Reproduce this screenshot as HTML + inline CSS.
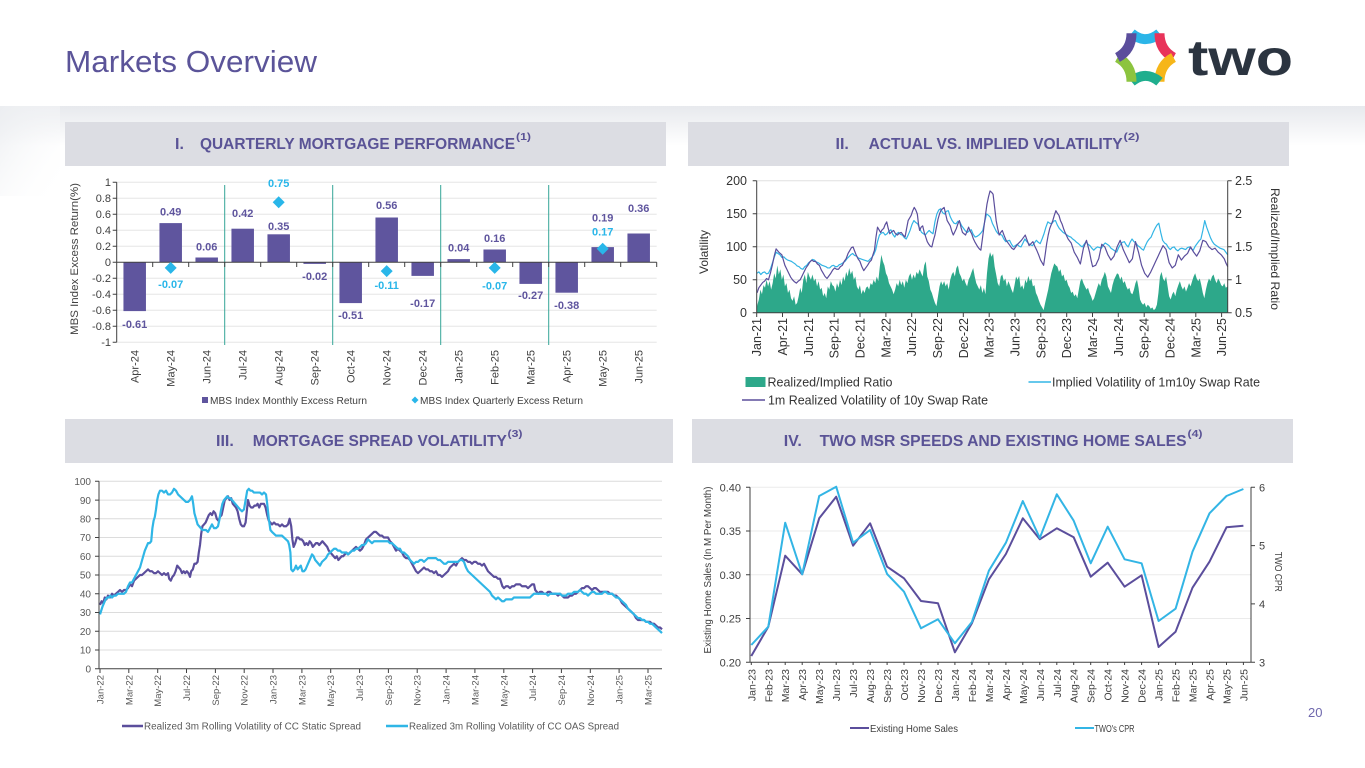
<!DOCTYPE html>
<html><head><meta charset="utf-8"><style>
html,body{margin:0;padding:0;background:#fff;}
svg{display:block;}
text{font-family:"Liberation Sans",Arial,sans-serif;}
</style></head><body>
<svg width="1365" height="768" viewBox="0 0 1365 768" xmlns="http://www.w3.org/2000/svg">
<defs>
<linearGradient id="bgv" x1="0" y1="0" x2="0" y2="1"><stop offset="0" stop-color="#e7e9ed"/><stop offset="1" stop-color="#ffffff"/></linearGradient>
<linearGradient id="bgh" x1="0" y1="0" x2="1" y2="1"><stop offset="0" stop-color="#eceef1"/><stop offset="1" stop-color="#ffffff" stop-opacity="0"/></linearGradient>
</defs>
<rect x="0" y="0" width="1365" height="768" fill="#fff"/>
<rect x="0" y="106" width="1365" height="40" fill="url(#bgv)"/>
<rect x="0" y="106" width="60" height="90" fill="url(#bgh)"/>

<!-- Title -->
<text x="65" y="72" font-size="31" fill="#5b5499" textLength="252" lengthAdjust="spacingAndGlyphs">Markets Overview</text>

<!-- Logo -->
<g fill="none" stroke-width="10" stroke-linecap="butt">
<path d="M1131.5,33.3 Q1145.5,45 1159.5,33.3" stroke="#2bb5e8"/>
<path d="M1159.5,33.3 Q1159.5,50 1173.5,57.5" stroke="#e8335a"/>
<path d="M1173.5,57.5 Q1159.5,65 1159.5,81.7" stroke="#f6b619"/>
<path d="M1159.5,81.7 Q1145.5,70 1131.5,81.7" stroke="#1fae8e"/>
<path d="M1131.5,81.7 Q1131.5,65 1117.5,57.5" stroke="#8cc43f"/>
<path d="M1117.5,57.5 Q1131.5,50 1131.5,33.3" stroke="#5b4e9c"/>
</g>
<text x="1188" y="75" font-size="50" font-weight="bold" fill="#2b3440" textLength="105" lengthAdjust="spacingAndGlyphs">two</text>

<!-- Header boxes -->
<rect x="65" y="122" width="601" height="44" fill="#dcdde3"/>
<rect x="688" y="122" width="601" height="44" fill="#dcdde3"/>
<rect x="65" y="419" width="608" height="44" fill="#dcdde3"/>
<rect x="692" y="419" width="601" height="44" fill="#dcdde3"/>
<g font-weight="bold" fill="#5a5396" font-size="16">
<text x="175" y="149">I.</text>
<text x="200" y="149" textLength="315" lengthAdjust="spacingAndGlyphs">QUARTERLY MORTGAGE PERFORMANCE</text>
<text x="516" y="140" font-size="10" textLength="15" lengthAdjust="spacingAndGlyphs">(1)</text>
<text x="835.5" y="149">II.</text>
<text x="868.6" y="149" textLength="254" lengthAdjust="spacingAndGlyphs">ACTUAL VS. IMPLIED VOLATILITY</text>
<text x="1123.5" y="140" font-size="10" textLength="16" lengthAdjust="spacingAndGlyphs">(2)</text>
<text x="216" y="446">III.</text>
<text x="252.8" y="446" textLength="254" lengthAdjust="spacingAndGlyphs">MORTGAGE SPREAD VOLATILITY</text>
<text x="507.5" y="437" font-size="10" textLength="15" lengthAdjust="spacingAndGlyphs">(3)</text>
<text x="783.7" y="446">IV.</text>
<text x="819.6" y="446" textLength="367" lengthAdjust="spacingAndGlyphs">TWO MSR SPEEDS AND EXISTING HOME SALES</text>
<text x="1187.5" y="437" font-size="10" textLength="15" lengthAdjust="spacingAndGlyphs">(4)</text>
</g>

<!-- ============ CHART I ============ -->
<g stroke="#e6e6e6" stroke-width="1">
<line x1="116.7" y1="182.3" x2="656.7" y2="182.3"/><line x1="116.7" y1="198.3" x2="656.7" y2="198.3"/>
<line x1="116.7" y1="214.3" x2="656.7" y2="214.3"/><line x1="116.7" y1="230.3" x2="656.7" y2="230.3"/>
<line x1="116.7" y1="246.3" x2="656.7" y2="246.3"/><line x1="116.7" y1="278.3" x2="656.7" y2="278.3"/>
<line x1="116.7" y1="294.3" x2="656.7" y2="294.3"/><line x1="116.7" y1="310.3" x2="656.7" y2="310.3"/>
<line x1="116.7" y1="326.3" x2="656.7" y2="326.3"/><line x1="116.7" y1="342.3" x2="656.7" y2="342.3"/>
</g>
<g stroke="#35a597" stroke-width="1">
<line x1="224.7" y1="185" x2="224.7" y2="345"/><line x1="332.7" y1="185" x2="332.7" y2="345"/>
<line x1="440.7" y1="185" x2="440.7" y2="345"/><line x1="548.7" y1="185" x2="548.7" y2="345"/>
</g>
<g fill="#5f559e">
<rect x="123.45" y="262.3" width="22.5" height="48.8"/>
<rect x="159.45" y="223.1" width="22.5" height="39.2"/>
<rect x="195.45" y="257.5" width="22.5" height="4.8"/>
<rect x="231.45" y="228.7" width="22.5" height="33.6"/>
<rect x="267.45" y="234.3" width="22.5" height="28"/>
<rect x="303.45" y="262.3" width="22.5" height="1.6"/>
<rect x="339.45" y="262.3" width="22.5" height="40.8"/>
<rect x="375.45" y="217.5" width="22.5" height="44.8"/>
<rect x="411.45" y="262.3" width="22.5" height="13.6"/>
<rect x="447.45" y="259.1" width="22.5" height="3.2"/>
<rect x="483.45" y="249.5" width="22.5" height="12.8"/>
<rect x="519.45" y="262.3" width="22.5" height="21.6"/>
<rect x="555.45" y="262.3" width="22.5" height="30.4"/>
<rect x="591.45" y="247.1" width="22.5" height="15.2"/>
<rect x="627.45" y="233.5" width="22.5" height="28.8"/>
</g>
<g stroke="#404040" stroke-width="1">
<line x1="116.7" y1="182.3" x2="116.7" y2="342.3"/>
<line x1="116.7" y1="262.3" x2="656.7" y2="262.3"/>
<path d="M112.7,182.3H116.7M112.7,198.3H116.7M112.7,214.3H116.7M112.7,230.3H116.7M112.7,246.3H116.7M112.7,262.3H116.7M112.7,278.3H116.7M112.7,294.3H116.7M112.7,310.3H116.7M112.7,326.3H116.7M112.7,342.3H116.7"/>
<path d="M152.7,262.3V267M188.7,262.3V267M224.7,262.3V267M260.7,262.3V267M296.7,262.3V267M332.7,262.3V267M368.7,262.3V267M404.7,262.3V267M440.7,262.3V267M476.7,262.3V267M512.7,262.3V267M548.7,262.3V267M584.7,262.3V267M620.7,262.3V267M656.7,262.3V267"/>
</g>
<g fill="#29b6e9">
<polygon points="170.7,261.9 176.7,267.9 170.7,273.9 164.7,267.9"/>
<polygon points="278.7,196.3 284.7,202.3 278.7,208.3 272.7,202.3"/>
<polygon points="386.7,265.1 392.7,271.1 386.7,277.1 380.7,271.1"/>
<polygon points="494.7,261.9 500.7,267.9 494.7,273.9 488.7,267.9"/>
<polygon points="602.7,242.7 608.7,248.7 602.7,254.7 596.7,248.7"/>
</g>
<g font-size="11" fill="#404040" text-anchor="end">
<text x="111" y="186">1</text><text x="111" y="202">0.8</text><text x="111" y="218">0.6</text>
<text x="111" y="234">0.4</text><text x="111" y="250">0.2</text><text x="111" y="266">0</text>
<text x="111" y="282">-0.2</text><text x="111" y="298">-0.4</text><text x="111" y="314">-0.6</text>
<text x="111" y="330">-0.8</text><text x="111" y="346">-1</text>
</g>
<text transform="translate(78 259) rotate(-90)" font-size="11" fill="#404040" text-anchor="middle" textLength="152" lengthAdjust="spacingAndGlyphs">MBS Index  Excess Return(%)</text>
<g font-size="11" font-weight="bold" fill="#5f559e" text-anchor="middle">
<text x="134.7" y="328">-0.61</text><text x="170.7" y="215.7">0.49</text><text x="206.7" y="250.7">0.06</text>
<text x="242.7" y="217">0.42</text><text x="278.7" y="230">0.35</text><text x="314.7" y="280">-0.02</text>
<text x="350.7" y="319">-0.51</text><text x="386.7" y="209">0.56</text><text x="422.7" y="307">-0.17</text>
<text x="458.7" y="251.7">0.04</text><text x="494.7" y="242">0.16</text><text x="530.7" y="299">-0.27</text>
<text x="566.7" y="309">-0.38</text><text x="602.7" y="221.7">0.19</text><text x="638.7" y="212">0.36</text>
</g>
<g font-size="11" font-weight="bold" fill="#29b6e9" text-anchor="middle">
<text x="170.7" y="288">-0.07</text><text x="278.7" y="187">0.75</text><text x="386.7" y="289">-0.11</text>
<text x="494.7" y="289.7">-0.07</text><text x="602.7" y="235.7">0.17</text>
</g>
<g font-size="11" fill="#404040" text-anchor="end">
<text transform="translate(138.7 350) rotate(-90)">Apr-24</text>
<text transform="translate(174.7 350) rotate(-90)">May-24</text>
<text transform="translate(210.7 350) rotate(-90)">Jun-24</text>
<text transform="translate(246.7 350) rotate(-90)">Jul-24</text>
<text transform="translate(282.7 350) rotate(-90)">Aug-24</text>
<text transform="translate(318.7 350) rotate(-90)">Sep-24</text>
<text transform="translate(354.7 350) rotate(-90)">Oct-24</text>
<text transform="translate(390.7 350) rotate(-90)">Nov-24</text>
<text transform="translate(426.7 350) rotate(-90)">Dec-24</text>
<text transform="translate(462.7 350) rotate(-90)">Jan-25</text>
<text transform="translate(498.7 350) rotate(-90)">Feb-25</text>
<text transform="translate(534.7 350) rotate(-90)">Mar-25</text>
<text transform="translate(570.7 350) rotate(-90)">Apr-25</text>
<text transform="translate(606.7 350) rotate(-90)">May-25</text>
<text transform="translate(642.7 350) rotate(-90)">Jun-25</text>
</g>
<rect x="202" y="397" width="6" height="6" fill="#5f559e"/>
<text x="210" y="404" font-size="10" fill="#404040" textLength="157" lengthAdjust="spacingAndGlyphs">MBS Index Monthly Excess Return</text>
<polygon points="415,396.5 418.5,400 415,403.5 411.5,400" fill="#29b6e9"/>
<text x="420" y="404" font-size="10" fill="#404040" textLength="163" lengthAdjust="spacingAndGlyphs">MBS Index Quarterly Excess Return</text>

<!-- ============ CHART II ============ -->
<g stroke="#e0e0e0" stroke-width="1">
<line x1="756.7" y1="180.7" x2="1227.7" y2="180.7"/><line x1="756.7" y1="213.7" x2="1227.7" y2="213.7"/>
<line x1="756.7" y1="246.7" x2="1227.7" y2="246.7"/><line x1="756.7" y1="279.7" x2="1227.7" y2="279.7"/>
</g>
<g transform="translate(690 312.7) scale(0.3827 -0.658)">
<path fill="#2da88a" d="M175,0 L175,10 180,20 184,35 188,28 192,42 196,38 200,50 204,40 208,48 212,35 216,45 220,60 224,52 228,72 232,58 236,66 240,50 244,58 248,40 252,45 256,30 260,35 264,22 268,18 272,25 276,12 280,15 284,25 288,38 292,30 296,50 300,58 304,45 308,62 312,55 316,50 320,58 324,48 328,52 332,40 336,48 340,35 344,38 348,25 352,30 356,22 360,40 364,35 368,48 372,42 376,40 380,32 384,45 388,38 392,50 396,42 400,55 404,48 408,62 412,55 416,68 420,58 424,64 428,50 432,55 436,40 440,35 444,42 448,28 452,35 456,30 460,38 464,40 468,35 472,45 476,42 480,50 484,45 488,55 492,48 496,70 500,88 504,78 508,72 512,60 516,55 520,45 524,40 528,35 532,28 536,35 540,45 544,40 548,50 552,42 556,48 560,38 564,50 568,45 572,55 576,60 580,50 584,58 588,52 592,62 596,58 600,66 604,60 608,55 612,72 616,78 620,55 624,48 628,35 632,30 636,22 640,15 644,10 648,25 652,40 656,48 660,42 664,48 668,40 672,45 676,35 680,50 684,58 688,62 692,55 696,68 700,72 704,60 708,55 712,48 716,52 720,45 724,40 728,50 732,55 736,62 740,68 744,55 748,45 752,40 756,35 760,42 764,30 768,38 772,28 776,60 780,82 784,92 788,85 792,90 796,70 800,58 804,45 808,40 812,55 816,58 820,48 824,52 828,40 832,48 836,42 840,35 844,30 848,42 852,55 856,50 860,56 864,38 868,42 872,35 876,50 880,45 884,56 888,48 892,52 896,40 900,42 904,30 908,25 912,18 916,12 920,8 924,4 928,15 932,25 936,35 940,48 944,60 948,68 952,75 956,72 960,70 964,62 968,66 972,55 976,58 980,48 984,50 988,42 992,38 996,30 1000,32 1004,25 1008,28 1012,22 1016,35 1020,48 1024,52 1028,45 1032,40 1036,35 1040,38 1044,30 1048,25 1052,18 1056,22 1060,30 1064,38 1068,45 1072,40 1076,50 1080,55 1084,62 1088,55 1092,40 1096,35 1100,30 1104,42 1108,50 1112,55 1116,60 1120,58 1124,50 1128,55 1132,45 1136,48 1140,40 1144,35 1148,38 1152,30 1156,28 1160,35 1164,45 1168,50 1172,38 1176,20 1180,15 1184,12 1188,15 1192,8 1196,12 1200,10 1204,6 1208,8 1212,4 1216,6 1220,12 1224,30 1228,55 1232,62 1236,52 1240,48 1244,55 1248,40 1252,25 1256,20 1260,28 1264,32 1268,25 1272,35 1276,42 1280,48 1284,40 1288,35 1292,40 1296,32 1300,38 1304,45 1308,40 1312,48 1316,55 1320,60 1324,52 1328,48 1332,52 1336,42 1340,30 1344,22 1348,35 1352,45 1356,52 1360,48 1364,55 1368,58 1372,50 1376,45 1380,52 1384,48 1388,42 1392,40 1396,45 1400,38 1405,40 L1405,0 Z"/>
<polyline fill="none" stroke="#33b5e5" stroke-width="1.2" vector-effect="non-scaling-stroke" stroke-linejoin="round" points="175,60 180,62 185,58 190,61 195,62 200,59 205,60 210,66 215,75 220,84 225,92 230,90 235,88 240,84 245,85 250,82 255,80 260,79 265,78 270,76 275,74 280,71 285,70 290,67 295,66 300,70 305,72 310,76 315,78 320,81 325,80 330,77 335,76 340,74 345,72 350,71 355,70 360,68 365,68 370,71 375,72 380,70 385,70 390,73 395,74 400,76 405,78 410,82 415,85 420,88 425,90 430,87 435,86 440,83 445,82 450,81 455,80 460,79 465,78 470,81 475,84 480,88 485,95 490,108 495,118 500,121 505,122 510,118 515,120 520,124 525,126 530,119 535,115 540,120 545,122 550,119 555,118 560,114 565,112 570,118 575,125 580,134 585,140 590,137 595,135 600,128 605,122 610,120 615,118 620,122 625,125 630,122 635,120 640,138 645,150 650,156 655,158 660,152 665,150 670,154 675,155 680,146 685,140 690,136 695,135 700,139 705,138 710,132 715,128 720,124 725,122 730,125 735,126 740,119 745,115 750,116 755,118 760,121 765,125 770,138 775,150 780,148 785,145 790,136 795,130 800,124 805,120 810,119 815,118 820,112 825,108 830,109 835,110 840,104 845,100 850,102 855,104 860,101 865,100 870,106 875,112 880,108 885,105 890,103 895,102 900,106 905,110 910,107 915,105 920,112 925,120 930,130 935,138 940,136 945,135 950,139 955,140 960,133 965,128 970,125 975,122 980,120 985,118 990,116 995,115 1000,112 1005,110 1010,107 1015,105 1020,102 1025,100 1030,104 1035,108 1040,104 1045,102 1050,98 1055,95 1060,98 1065,100 1070,99 1075,98 1080,103 1085,106 1090,104 1095,102 1100,98 1105,96 1110,94 1115,92 1120,99 1125,104 1130,107 1135,108 1140,103 1145,100 1150,107 1155,112 1160,108 1165,106 1170,102 1175,100 1180,97 1185,95 1190,102 1195,108 1200,112 1205,115 1210,122 1215,128 1220,133 1225,136 1230,122 1235,110 1240,106 1245,104 1250,99 1255,96 1260,99 1265,100 1270,96 1275,94 1280,97 1285,98 1290,97 1295,96 1300,99 1305,100 1310,97 1315,95 1320,101 1325,105 1330,109 1335,112 1340,125 1345,140 1350,130 1355,122 1360,114 1365,108 1370,104 1375,102 1380,100 1385,98 1390,97 1395,96 1400,92 1405,88"/>
<polyline fill="none" stroke="#5b4e9c" stroke-width="1.2" vector-effect="non-scaling-stroke" stroke-linejoin="round" points="175,30 180,38 185,42 190,46 195,48 200,52 205,50 210,60 215,72 220,86 225,97 232,92 240,88 248,72 253,66 258,60 263,54 268,50 273,47 278,45 283,48 288,50 293,56 298,62 303,68 308,72 313,77 318,80 323,78 328,78 333,74 338,72 343,65 348,60 353,55 358,52 363,56 368,60 373,65 378,68 383,66 388,66 393,70 398,72 403,78 408,82 413,90 418,95 422,99 426,100 430,94 434,88 439,82 444,78 449,70 454,64 459,68 464,72 469,77 474,80 478,88 482,95 486,115 490,130 494,126 498,122 502,126 506,128 510,134 514,138 518,128 522,120 527,123 532,125 537,120 542,118 547,121 552,122 557,118 562,115 566,128 570,140 574,144 578,148 582,155 586,160 590,156 594,150 597,135 600,125 604,130 608,132 612,122 616,115 620,108 624,104 628,101 632,100 636,110 640,118 644,130 648,142 652,150 656,156 660,158 664,160 668,150 672,140 676,136 680,132 684,124 688,118 692,123 696,128 700,135 704,140 708,130 712,122 716,120 720,118 724,124 728,130 732,124 736,120 740,113 744,108 748,104 752,100 756,97 760,95 764,112 768,130 772,148 776,165 780,176 784,185 788,183 792,180 796,160 800,140 804,128 808,118 812,122 816,125 821,117 826,110 831,106 836,102 841,98 846,96 851,100 856,104 861,107 866,110 871,114 876,118 881,110 886,102 891,105 896,108 901,101 906,95 911,88 916,80 920,76 924,72 928,88 932,105 936,118 940,128 944,134 948,140 952,148 956,155 960,151 964,148 968,140 972,135 976,128 980,122 984,117 988,112 992,109 996,106 1000,99 1004,92 1008,88 1012,84 1016,79 1020,74 1024,86 1028,98 1032,104 1036,110 1040,101 1044,92 1048,80 1052,70 1056,71 1060,72 1064,77 1068,82 1072,93 1076,104 1080,102 1084,100 1088,94 1092,88 1096,84 1100,80 1104,83 1108,86 1112,93 1116,100 1120,105 1124,110 1128,103 1132,96 1136,91 1140,86 1144,81 1148,76 1152,79 1156,82 1160,95 1164,108 1168,100 1172,92 1176,82 1180,72 1184,66 1188,60 1192,57 1196,54 1200,58 1204,62 1208,67 1212,72 1216,77 1220,82 1224,87 1228,92 1232,97 1236,102 1240,99 1244,96 1248,86 1252,76 1256,72 1260,68 1264,70 1268,72 1272,80 1276,88 1280,84 1284,80 1288,83 1292,86 1296,88 1300,90 1304,95 1308,100 1312,96 1316,92 1320,89 1324,86 1328,90 1332,94 1336,102 1340,110 1344,109 1348,108 1352,104 1356,100 1360,98 1364,96 1368,97 1372,98 1376,95 1380,92 1384,90 1388,88 1392,85 1396,82 1400,76 1405,70"/>
</g>
<g stroke="#404040" stroke-width="1">
<line x1="756.7" y1="180.7" x2="756.7" y2="312.7"/>
<line x1="1227.7" y1="180.7" x2="1227.7" y2="312.7"/>
<line x1="756.7" y1="312.7" x2="1227.7" y2="312.7"/>
<path d="M752.7,180.7H756.7M752.7,213.7H756.7M752.7,246.7H756.7M752.7,279.7H756.7M752.7,312.7H756.7"/>
<path d="M1227.7,180.7H1231.7M1227.7,213.7H1231.7M1227.7,246.7H1231.7M1227.7,279.7H1231.7M1227.7,312.7H1231.7"/>
<path d="M756.7,312.7V317M782.5,312.7V317M808.4,312.7V317M834.2,312.7V317M860,312.7V317M885.9,312.7V317M911.7,312.7V317M937.5,312.7V317M963.3,312.7V317M989.2,312.7V317M1015,312.7V317M1040.8,312.7V317M1066.7,312.7V317M1092.5,312.7V317M1118.3,312.7V317M1144.2,312.7V317M1170,312.7V317M1195.8,312.7V317M1221.6,312.7V317"/>
</g>
<g font-size="12.5" fill="#333" text-anchor="end">
<text x="747" y="185">200</text><text x="747" y="218">150</text><text x="747" y="251">100</text>
<text x="747" y="284">50</text><text x="747" y="317">0</text>
</g>
<g font-size="12.5" fill="#333">
<text x="1235" y="185">2.5</text><text x="1235" y="218">2</text><text x="1235" y="251">1.5</text>
<text x="1235" y="284">1</text><text x="1235" y="317">0.5</text>
</g>
<text transform="translate(708 252) rotate(-90)" font-size="12" fill="#333" text-anchor="middle">Volatility</text>
<text transform="translate(1271 249) rotate(90)" font-size="12" fill="#333" text-anchor="middle" textLength="122" lengthAdjust="spacingAndGlyphs">Realized/Implied Ratio</text>
<g font-size="12.5" fill="#333" text-anchor="end">
<text transform="translate(761.2 318) rotate(-90)">Jan-21</text>
<text transform="translate(787 318) rotate(-90)">Apr-21</text>
<text transform="translate(812.9 318) rotate(-90)">Jun-21</text>
<text transform="translate(838.7 318) rotate(-90)">Sep-21</text>
<text transform="translate(864.5 318) rotate(-90)">Dec-21</text>
<text transform="translate(890.4 318) rotate(-90)">Mar-22</text>
<text transform="translate(916.2 318) rotate(-90)">Jun-22</text>
<text transform="translate(942 318) rotate(-90)">Sep-22</text>
<text transform="translate(967.8 318) rotate(-90)">Dec-22</text>
<text transform="translate(993.7 318) rotate(-90)">Mar-23</text>
<text transform="translate(1019.5 318) rotate(-90)">Jun-23</text>
<text transform="translate(1045.3 318) rotate(-90)">Sep-23</text>
<text transform="translate(1071.2 318) rotate(-90)">Dec-23</text>
<text transform="translate(1097 318) rotate(-90)">Mar-24</text>
<text transform="translate(1122.8 318) rotate(-90)">Jun-24</text>
<text transform="translate(1148.7 318) rotate(-90)">Sep-24</text>
<text transform="translate(1174.5 318) rotate(-90)">Dec-24</text>
<text transform="translate(1200.3 318) rotate(-90)">Mar-25</text>
<text transform="translate(1226.1 318) rotate(-90)">Jun-25</text>
</g>
<rect x="745.5" y="377" width="20" height="10" fill="#2da88a"/>
<text x="767.5" y="386.5" font-size="12.5" fill="#333" textLength="125" lengthAdjust="spacingAndGlyphs">Realized/Implied Ratio</text>
<line x1="1028.5" y1="382" x2="1051" y2="382" stroke="#33b5e5" stroke-width="1.5"/>
<text x="1052" y="386.5" font-size="12.5" fill="#333" textLength="208" lengthAdjust="spacingAndGlyphs">Implied Volatility of 1m10y Swap Rate</text>
<line x1="742" y1="400" x2="765" y2="400" stroke="#5b4e9c" stroke-width="1.5"/>
<text x="768" y="404.5" font-size="12.5" fill="#333" textLength="220" lengthAdjust="spacingAndGlyphs">1m Realized Volatility of 10y Swap Rate</text>

<!-- ============ CHART III ============ -->
<g stroke="#dcdcdc" stroke-width="1">
<line x1="99" y1="481.3" x2="662" y2="481.3"/><line x1="99" y1="500.1" x2="662" y2="500.1"/>
<line x1="99" y1="518.8" x2="662" y2="518.8"/><line x1="99" y1="537.5" x2="662" y2="537.5"/>
<line x1="99" y1="556.3" x2="662" y2="556.3"/><line x1="99" y1="575" x2="662" y2="575"/>
<line x1="99" y1="593.7" x2="662" y2="593.7"/><line x1="99" y1="612.5" x2="662" y2="612.5"/>
<line x1="99" y1="631.2" x2="662" y2="631.2"/><line x1="99" y1="650" x2="662" y2="650"/>
</g>
<g transform="translate(60 668.7) scale(0.4 -1.874)" fill="none" stroke-linejoin="round">
<polyline stroke="#5b4e9c" stroke-width="2.2" vector-effect="non-scaling-stroke" points="100,34 104,36 108,35 112,38 116,37 120,39 125,38 130,40 135,39 140,40 145,41 150,42 155,41 160,42 165,42 170,43 175,45 180,44 185,47 190,48 195,49 200,50 205,50 210,51 215,52 220,53 225,52 230,52 235,51 240,51 245,52 250,51 255,50 260,51 265,50 270,51 273,48 277,47 281,49 285,50 289,52 293,55 297,54 301,53 305,51 309,52 313,51 317,52 321,51 325,49 328,52 332,53 336,56 340,56 344,57 347,62 350,66 353,72 356,76 360,77 364,78 368,80 372,82 376,83 380,82 384,84 388,83 392,80 396,79 400,81 404,82 408,86 412,90 416,91 420,92 424,90 428,91 432,88 436,87 440,86 444,84 448,80 452,77 456,76 460,76 464,78 467,84 470,90 474,87 478,86 482,86 486,87 490,87 494,88 498,86 502,88 506,88 510,88 514,86 518,82 522,79 526,78 530,77 535,78 540,77 545,77 550,76 555,77 560,76 565,76 570,77 574,80 578,76 581,69 584,65 588,67 592,70 596,70 600,69 604,69 608,68 612,66 616,67 620,66 624,68 628,67 632,65 636,66 640,67 644,67 648,66 652,67 656,68 660,67 664,66 668,65 672,63 676,62 680,61 684,60 688,59 692,60 696,58 700,59 704,60 708,60 712,61 716,62 720,61 725,62 730,63 735,64 740,65 745,64 750,63 755,64 760,66 765,69 770,70 775,71 780,72 785,73 790,73 795,72 800,71 805,71 810,70 815,70 820,70 825,68 830,67 835,65 840,63 845,64 850,63 855,62 860,60 865,59 870,59 875,58 880,56 885,54 890,52 895,51 900,52 905,53 910,54 915,53 920,53 925,52 930,52 935,51 940,52 945,50 950,50 955,49 960,50 965,51 970,52 975,54 980,55 985,56 990,55 995,57 1000,58 1005,59 1010,58 1015,58 1020,57 1025,57 1030,56 1035,57 1040,57 1045,56 1050,56 1055,55 1060,56 1065,54 1070,52 1075,51 1080,50 1085,49 1090,49 1095,48 1100,48 1103,46 1106,44 1110,43 1115,44 1120,44 1125,43 1130,44 1135,44 1140,45 1145,45 1150,45 1155,44 1160,44 1165,44 1170,43 1175,44 1180,45 1185,45 1188,42 1192,41 1196,40 1200,41 1205,41 1210,40 1215,40 1220,41 1225,41 1230,40 1235,40 1240,40 1245,39 1250,40 1255,39 1260,38 1265,38 1270,38 1275,39 1280,39 1285,40 1290,40 1295,41 1300,42 1305,43 1310,43 1315,44 1320,44 1325,43 1330,42 1335,43 1340,43 1345,42 1350,41 1355,41 1360,41 1365,41 1370,41 1375,40 1380,40 1385,39 1390,39 1395,38 1400,37 1405,35 1410,34 1415,33 1420,32 1425,31 1430,30 1435,29 1440,27 1445,26 1450,26 1455,26 1460,26 1465,25 1470,25 1475,25 1480,24 1485,24 1490,23 1495,22 1500,22 1505,21"/>
<polyline stroke="#2fb6e6" stroke-width="2.2" vector-effect="non-scaling-stroke" points="100,29 103,31 106,33 110,35 114,37 118,38 122,38 126,39 130,38 135,39 140,39 145,40 150,40 155,40 160,40 165,41 170,44 175,46 180,46 185,48 190,50 195,52 200,54 204,57 208,60 212,63 216,65 220,67 224,67 228,68 231,75 234,79 237,81 240,85 243,90 246,93 250,95 255,95 260,94 265,95 270,93 275,93 280,94 285,96 290,95 295,93 300,92 305,91 310,90 315,89 320,89 325,90 330,92 333,88 336,83 340,80 344,77 348,76 352,75 356,74 360,74 365,74 370,73 375,75 380,77 385,75 390,75 395,76 398,79 402,84 406,88 410,90 414,91 418,92 422,91 426,91 430,90 434,89 438,88 442,87 446,86 450,85 455,84 460,85 464,90 468,95 472,96 476,95 480,95 485,94 490,94 495,94 500,94 505,93 510,94 515,93 518,88 522,80 526,74 530,73 535,72 540,71 545,71 550,71 555,71 560,70 565,69 570,68 573,66 576,62 578,53 582,52 586,53 590,55 594,53 598,54 602,55 606,52 610,52 614,53 618,55 622,57 626,59 630,61 634,60 638,58 642,57 646,56 650,55 655,57 660,58 665,59 670,61 675,62 680,63 685,64 690,64 695,63 700,63 705,62 710,62 715,62 720,61 725,62 730,63 735,63 740,64 745,64 750,65 755,66 760,66 765,67 770,69 775,68 780,67 785,68 790,68 795,68 800,68 805,68 810,68 815,68 820,68 825,67 830,67 835,66 840,65 845,64 850,64 855,62 860,62 865,61 870,60 875,58 880,57 885,56 890,57 895,57 900,58 905,58 910,57 915,58 920,59 925,59 930,59 935,59 940,59 945,58 950,58 955,57 960,56 965,56 970,57 975,57 980,57 985,57 990,57 995,57 1000,58 1005,58 1010,57 1015,54 1020,52 1025,51 1030,50 1035,49 1040,48 1045,47 1050,46 1055,45 1060,44 1065,43 1070,42 1075,41 1080,39 1085,38 1090,37 1095,38 1100,37 1105,36 1110,36 1115,37 1120,37 1125,37 1130,37 1135,38 1140,38 1145,38 1150,38 1155,38 1160,38 1165,38 1170,38 1175,38 1180,39 1185,40 1190,40 1195,40 1200,40 1205,40 1210,40 1215,40 1220,39 1225,40 1230,40 1235,40 1240,40 1245,40 1250,40 1255,39 1260,39 1265,39 1270,40 1275,40 1280,40 1285,41 1290,41 1295,41 1300,42 1305,41 1310,40 1315,40 1320,39 1325,40 1330,41 1335,41 1340,40 1345,40 1350,40 1355,40 1360,41 1365,41 1370,40 1375,40 1380,40 1385,39 1390,38 1395,38 1400,37 1405,36 1410,35 1415,34 1420,32 1425,31 1430,30 1435,29 1440,28 1445,27 1450,27 1455,26 1460,26 1465,25 1470,25 1475,24 1480,24 1485,23 1490,22 1495,21 1500,20 1505,19"/>
</g>
<g stroke="#404040" stroke-width="1">
<line x1="99" y1="481.3" x2="99" y2="668.7"/>
<line x1="99" y1="668.7" x2="662" y2="668.7"/>
<path d="M95,481.3H99M95,500.1H99M95,518.8H99M95,537.5H99M95,556.3H99M95,575H99M95,593.7H99M95,612.5H99M95,631.2H99M95,650H99M95,668.7H99"/>
<path d="M100,668.7V673M128.8,668.7V673M157.7,668.7V673M186.5,668.7V673M215.4,668.7V673M244.2,668.7V673M273,668.7V673M301.9,668.7V673M330.7,668.7V673M359.6,668.7V673M388.4,668.7V673M417.2,668.7V673M446.1,668.7V673M474.9,668.7V673M503.8,668.7V673M532.6,668.7V673M561.4,668.7V673M590.3,668.7V673M619.1,668.7V673M648,668.7V673"/>
</g>
<g font-size="10" fill="#595959" text-anchor="end">
<text x="91" y="485">100</text><text x="91" y="503.8">90</text><text x="91" y="522.5">80</text>
<text x="91" y="541.2">70</text><text x="91" y="560">60</text><text x="91" y="578.7">50</text>
<text x="91" y="597.4">40</text><text x="91" y="616.2">30</text><text x="91" y="634.9">20</text>
<text x="91" y="653.7">10</text><text x="91" y="672.4">0</text>
</g>
<g font-size="9.5" fill="#595959" text-anchor="end">
<text transform="translate(103.5 675) rotate(-90)">Jan-22</text>
<text transform="translate(132.3 675) rotate(-90)">Mar-22</text>
<text transform="translate(161.2 675) rotate(-90)">May-22</text>
<text transform="translate(190 675) rotate(-90)">Jul-22</text>
<text transform="translate(218.9 675) rotate(-90)">Sep-22</text>
<text transform="translate(247.7 675) rotate(-90)">Nov-22</text>
<text transform="translate(276.5 675) rotate(-90)">Jan-23</text>
<text transform="translate(305.4 675) rotate(-90)">Mar-23</text>
<text transform="translate(334.2 675) rotate(-90)">May-23</text>
<text transform="translate(363.1 675) rotate(-90)">Jul-23</text>
<text transform="translate(391.9 675) rotate(-90)">Sep-23</text>
<text transform="translate(420.7 675) rotate(-90)">Nov-23</text>
<text transform="translate(449.6 675) rotate(-90)">Jan-24</text>
<text transform="translate(478.4 675) rotate(-90)">Mar-24</text>
<text transform="translate(507.3 675) rotate(-90)">May-24</text>
<text transform="translate(536.1 675) rotate(-90)">Jul-24</text>
<text transform="translate(564.9 675) rotate(-90)">Sep-24</text>
<text transform="translate(593.8 675) rotate(-90)">Nov-24</text>
<text transform="translate(622.6 675) rotate(-90)">Jan-25</text>
<text transform="translate(651.5 675) rotate(-90)">Mar-25</text>
</g>
<line x1="122" y1="726" x2="143" y2="726" stroke="#5b4e9c" stroke-width="2.5"/>
<text x="144" y="729.5" font-size="10" fill="#595959" textLength="217" lengthAdjust="spacingAndGlyphs">Realized 3m Rolling Volatility of CC Static Spread</text>
<line x1="386" y1="726" x2="408" y2="726" stroke="#2fb6e6" stroke-width="2.5"/>
<text x="409" y="729.5" font-size="10" fill="#595959" textLength="210" lengthAdjust="spacingAndGlyphs">Realized 3m Rolling Volatility of CC OAS Spread</text>

<!-- ============ CHART IV ============ -->
<g stroke="#ebebeb" stroke-width="1">
<line x1="750" y1="487.3" x2="1251" y2="487.3"/><line x1="750" y1="531.05" x2="1251" y2="531.05"/>
<line x1="750" y1="574.8" x2="1251" y2="574.8"/><line x1="750" y1="618.55" x2="1251" y2="618.55"/>
</g>
<polyline fill="none" stroke="#5b4e9c" stroke-width="2" stroke-linejoin="round" points="751.3,656 768.3,626.7 785.2,555.7 802.2,574.3 819.2,518.3 836.2,496.7 853.1,545.7 870.1,523.3 887.1,566.7 904,578.3 921,601 938,603.3 954.9,652.3 971.9,623.3 988.9,579.3 1005.9,554 1022.8,518.3 1039.8,539.3 1056.8,528.3 1073.7,537.3 1090.7,576.7 1107.7,562.7 1124.6,586.7 1141.6,575.3 1158.6,647 1175.6,631.7 1192.5,587.7 1209.5,561.7 1226.5,527.3 1243.4,525.7"/>
<polyline fill="none" stroke="#33b5e5" stroke-width="2" stroke-linejoin="round" points="751.3,645 768.3,626.7 785.2,522.7 802.2,574.3 819.2,496 836.2,486.7 853.1,542.7 870.1,530 887.1,574 904,591.7 921,628.3 938,619.3 954.9,643.3 971.9,622 988.9,570.7 1005.9,542.7 1022.8,501 1039.8,538 1056.8,494.3 1073.7,520.7 1090.7,563.3 1107.7,526.7 1124.6,559.3 1141.6,563.3 1158.6,621 1175.6,608.7 1192.5,551.7 1209.5,513.3 1226.5,496 1243.4,489"/>
<g stroke="#404040" stroke-width="1">
<line x1="750" y1="487.3" x2="750" y2="662.3"/>
<line x1="1251" y1="487.3" x2="1251" y2="662.3"/>
<line x1="750" y1="662.3" x2="1251" y2="662.3"/>
<path d="M746,487.3H750M746,531.05H750M746,574.8H750M746,618.55H750M746,662.3H750"/>
<path d="M1251,487.3H1255M1251,545.6H1255M1251,603.9H1255M1251,662.3H1255"/>
<path d="M751.3,662.3V665M768.3,662.3V665M785.2,662.3V665M802.2,662.3V665M819.2,662.3V665M836.2,662.3V665M853.1,662.3V665M870.1,662.3V665M887.1,662.3V665M904,662.3V665M921,662.3V665M938,662.3V665M954.9,662.3V665M971.9,662.3V665M988.9,662.3V665M1005.9,662.3V665M1022.8,662.3V665M1039.8,662.3V665M1056.8,662.3V665M1073.7,662.3V665M1090.7,662.3V665M1107.7,662.3V665M1124.6,662.3V665M1141.6,662.3V665M1158.6,662.3V665M1175.6,662.3V665M1192.5,662.3V665M1209.5,662.3V665M1226.5,662.3V665M1243.4,662.3V665"/>
</g>
<g font-size="11" fill="#404040" text-anchor="end">
<text x="741" y="491.3">0.40</text><text x="741" y="535">0.35</text><text x="741" y="578.8">0.30</text>
<text x="741" y="622.5">0.25</text><text x="741" y="666.3">0.20</text>
</g>
<g font-size="11" fill="#404040">
<text x="1259" y="491.3">6</text><text x="1259" y="549.6">5</text><text x="1259" y="607.9">4</text><text x="1259" y="666.3">3</text>
</g>
<text transform="translate(711 570) rotate(-90)" font-size="10.5" fill="#404040" text-anchor="middle" textLength="167" lengthAdjust="spacingAndGlyphs">Existing Home Sales (In M Per Month)</text>
<text transform="translate(1275 571.7) rotate(90)" font-size="10.5" fill="#404040" text-anchor="middle" textLength="40" lengthAdjust="spacingAndGlyphs">TWO CPR</text>
<g font-size="10.5" fill="#404040" text-anchor="end">
<text transform="translate(755.3 669) rotate(-90)">Jan-23</text>
<text transform="translate(772.3 669) rotate(-90)">Feb-23</text>
<text transform="translate(789.2 669) rotate(-90)">Mar-23</text>
<text transform="translate(806.2 669) rotate(-90)">Apr-23</text>
<text transform="translate(823.2 669) rotate(-90)">May-23</text>
<text transform="translate(840.2 669) rotate(-90)">Jun-23</text>
<text transform="translate(857.1 669) rotate(-90)">Jul-23</text>
<text transform="translate(874.1 669) rotate(-90)">Aug-23</text>
<text transform="translate(891.1 669) rotate(-90)">Sep-23</text>
<text transform="translate(908 669) rotate(-90)">Oct-23</text>
<text transform="translate(925 669) rotate(-90)">Nov-23</text>
<text transform="translate(942 669) rotate(-90)">Dec-23</text>
<text transform="translate(958.9 669) rotate(-90)">Jan-24</text>
<text transform="translate(975.9 669) rotate(-90)">Feb-24</text>
<text transform="translate(992.9 669) rotate(-90)">Mar-24</text>
<text transform="translate(1009.9 669) rotate(-90)">Apr-24</text>
<text transform="translate(1026.8 669) rotate(-90)">May-24</text>
<text transform="translate(1043.8 669) rotate(-90)">Jun-24</text>
<text transform="translate(1060.8 669) rotate(-90)">Jul-24</text>
<text transform="translate(1077.7 669) rotate(-90)">Aug-24</text>
<text transform="translate(1094.7 669) rotate(-90)">Sep-24</text>
<text transform="translate(1111.7 669) rotate(-90)">Oct-24</text>
<text transform="translate(1128.6 669) rotate(-90)">Nov-24</text>
<text transform="translate(1145.6 669) rotate(-90)">Dec-24</text>
<text transform="translate(1162.6 669) rotate(-90)">Jan-25</text>
<text transform="translate(1179.6 669) rotate(-90)">Feb-25</text>
<text transform="translate(1196.5 669) rotate(-90)">Mar-25</text>
<text transform="translate(1213.5 669) rotate(-90)">Apr-25</text>
<text transform="translate(1230.5 669) rotate(-90)">May-25</text>
<text transform="translate(1247.4 669) rotate(-90)">Jun-25</text>
</g>
<line x1="850" y1="728" x2="869" y2="728" stroke="#5b4e9c" stroke-width="2"/>
<text x="870" y="731.8" font-size="10.5" fill="#404040" textLength="88" lengthAdjust="spacingAndGlyphs">Existing Home Sales</text>
<line x1="1075" y1="728" x2="1094" y2="728" stroke="#33b5e5" stroke-width="2"/>
<text x="1094.5" y="731.8" font-size="10.5" fill="#404040" textLength="40" lengthAdjust="spacingAndGlyphs">TWO's CPR</text>

<!-- page number -->
<text x="1308" y="717" font-size="13" fill="#6f68ad">20</text>
</svg>
</body></html>
